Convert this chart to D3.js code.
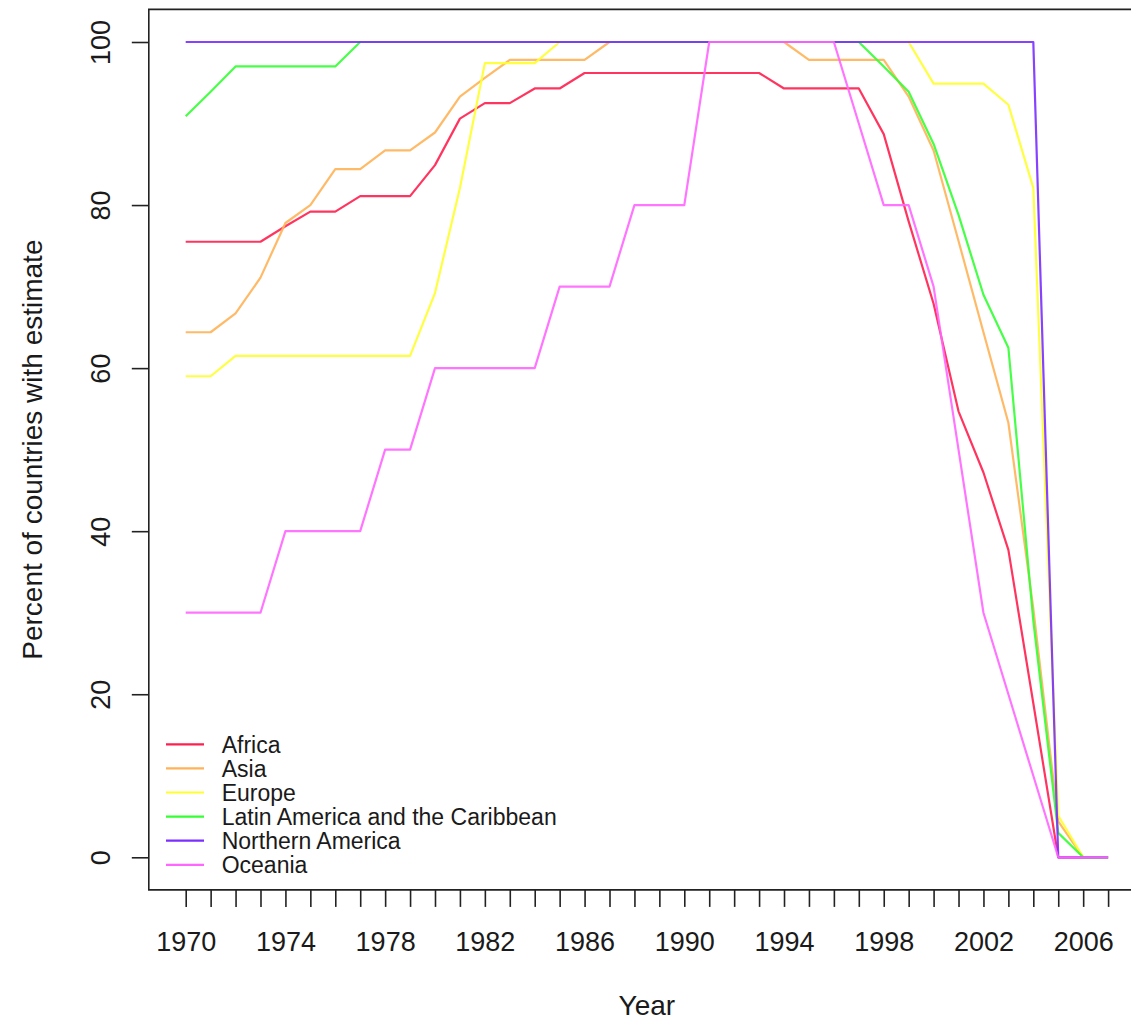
<!DOCTYPE html>
<html>
<head>
<meta charset="utf-8">
<script src="https://cdn.jsdelivr.net/npm/d3@7"></script>
<style>
  body { margin: 0; background: #fff; overflow: hidden; }
  text { font-family: "Liberation Sans", Arial, sans-serif; fill: #1a1a1a; }
</style>
</head>
<body>
<div id="chart"></div>
<script>

// years on the x axis
var years = d3.range(1970, 2008);

// percent of countries with estimate, one value per year 1970-2007
var africa = [75.5, 75.5, 75.5, 75.5, 77.4, 79.2, 79.2, 81.1, 81.1, 81.1,
              84.9, 90.6, 92.5, 92.5, 94.3, 94.3, 96.2, 96.2, 96.2, 96.2,
              96.2, 96.2, 96.2, 96.2, 94.3, 94.3, 94.3, 94.3, 88.7, 78.0,
              67.9, 54.7, 47.2, 37.7, 18.9, 0, 0, 0];
var asia = [64.4, 64.4, 66.7, 71.1, 77.8, 80.0, 84.4, 84.4, 86.7, 86.7,
            88.9, 93.3, 95.6, 97.8, 97.8, 97.8, 97.8, 100, 100, 100,
            100, 100, 100, 100, 100, 97.8, 97.8, 97.8, 97.8, 93.3,
            86.7, 75.6, 64.4, 53.3, 30.5, 4.4, 0, 0];
var europe = [59.0, 59.0, 61.5, 61.5, 61.5, 61.5, 61.5, 61.5, 61.5, 61.5,
              69.2, 82.1, 97.4, 97.4, 97.4, 100, 100, 100, 100, 100,
              100, 100, 100, 100, 100, 100, 100, 100, 100, 100,
              94.9, 94.9, 94.9, 92.3, 82.1, 5.1, 0, 0];
var latinAmerica = [90.9, 93.9, 97.0, 97.0, 97.0, 97.0, 97.0, 100, 100, 100,
                    100, 100, 100, 100, 100, 100, 100, 100, 100, 100,
                    100, 100, 100, 100, 100, 100, 100, 100, 97.0, 93.9,
                    87.5, 78.8, 69.0, 62.5, 29.0, 3.0, 0, 0];
var northernAmerica = [100, 100, 100, 100, 100, 100, 100, 100, 100, 100,
                       100, 100, 100, 100, 100, 100, 100, 100, 100, 100,
                       100, 100, 100, 100, 100, 100, 100, 100, 100, 100,
                       100, 100, 100, 100, 100, 0, 0, 0];
var oceania = [30, 30, 30, 30, 40, 40, 40, 40, 50, 50,
               60, 60, 60, 60, 60, 70, 70, 70, 80, 80,
               80, 100, 100, 100, 100, 100, 100, 90, 80, 80,
               70, 50, 30, 20, 10, 0, 0, 0];

var regions = ["Africa", "Asia", "Europe", "Latin America and the Caribbean",
               "Northern America", "Oceania"];
var regionValues = [africa, asia, europe, latinAmerica, northernAmerica, oceania];
var regionColors = ["#ff1f4f", "#ffb257", "#ffff2e", "#33ff33", "#7a2eff", "#ff66ff"];

var yTicks = [0, 20, 40, 60, 80, 100];

function drawChart() {

  var width = 1131, height = 1020;

  var svg = d3.select("#chart")
    .append("svg")
      .attr("width", width)
      .attr("height", height);

  // scales (R style: 4% padding beyond the data range)
  var x = d3.scaleLinear()
    .domain([1970, 2007])
    .range([185.7, 1108.1]);

  var y = d3.scaleLinear()
    .domain([0, 100])
    .range([857.3, 42]);

  var pad = 0.04 * 37;
  var boxLeft = x(1970 - pad), boxRight = x(2007 + pad);
  var boxTop = y(104), boxBottom = y(-4);

  // plot box (right side falls outside the picture)
  svg.append("path")
    .attr("d", "M" + boxRight + "," + boxTop + "H" + boxLeft + "V" + boxBottom + "H" + boxRight)
    .attr("fill", "none")
    .attr("stroke", "#222")
    .attr("stroke-width", 1.6);

  // x axis
  var xAxis = svg.append("g")
    .attr("transform", "translate(0," + boxBottom + ")")
    .call(d3.axisBottom(x)
      .tickValues(years)
      .tickSize(17)
      .tickSizeOuter(0)
      .tickFormat(function(d) { return (d - 1970) % 4 === 0 ? d : ""; }));

  xAxis.select(".domain").remove();
  xAxis.selectAll("line").attr("stroke", "#222").attr("stroke-width", 1.6);
  xAxis.selectAll("text")
    .attr("y", 61)
    .attr("dy", 0)
    .style("font-size", "27px")
    .style("font-family", "'Liberation Sans', Arial, sans-serif")
    .attr("fill", "#1a1a1a");

  // y axis with rotated labels
  var yAxis = svg.append("g")
    .attr("transform", "translate(" + boxLeft + ",0)")
    .call(d3.axisLeft(y)
      .tickValues(yTicks)
      .tickSize(17)
      .tickSizeOuter(0));

  yAxis.select(".domain").remove();
  yAxis.selectAll("line").attr("stroke", "#222").attr("stroke-width", 1.6);
  yAxis.selectAll("text")
    .attr("transform", "rotate(-90)")
    .attr("x", 0)
    .attr("y", -(boxLeft - 110))
    .attr("dy", 0)
    .attr("text-anchor", "middle")
    .style("font-size", "27px")
    .style("font-family", "'Liberation Sans', Arial, sans-serif")
    .attr("fill", "#1a1a1a");

  // axis titles
  svg.append("text")
    .attr("x", (boxLeft + boxRight) / 2)
    .attr("y", 1015)
    .attr("text-anchor", "middle")
    .style("font-size", "28px")
    .text("Year");

  svg.append("text")
    .attr("transform", "translate(42," + (boxTop + boxBottom) / 2 + ") rotate(-90)")
    .attr("text-anchor", "middle")
    .style("font-size", "28px")
    .text("Percent of countries with estimate");

  // lines
  var line = d3.line()
    .x(function(d, i) { return x(years[i]); })
    .y(function(d) { return y(d); });

  svg.append("g")
    .selectAll("path")
    .data(regionValues)
    .enter()
    .append("path")
      .attr("d", line)
      .attr("fill", "none")
      .attr("stroke", function(d, i) { return regionColors[i]; })
      .attr("stroke-width", 2.2)
      .attr("stroke-opacity", 0.9)
      .attr("stroke-linejoin", "round");

  // legend
  var legend = svg.append("g")
    .selectAll("g")
    .data(regions)
    .enter()
    .append("g")
      .attr("transform", function(d, i) { return "translate(0," + (744.3 + i * 24.1) + ")"; });

  legend.append("line")
    .attr("x1", 166)
    .attr("x2", 204)
    .attr("stroke", function(d, i) { return regionColors[i]; })
    .attr("stroke-width", 2.2);

  legend.append("text")
    .attr("x", 221.7)
    .attr("y", 8.2)
    .style("font-size", "23px")
    .text(function(d) { return d; });
}

drawChart();

</script>
</body>
</html>
